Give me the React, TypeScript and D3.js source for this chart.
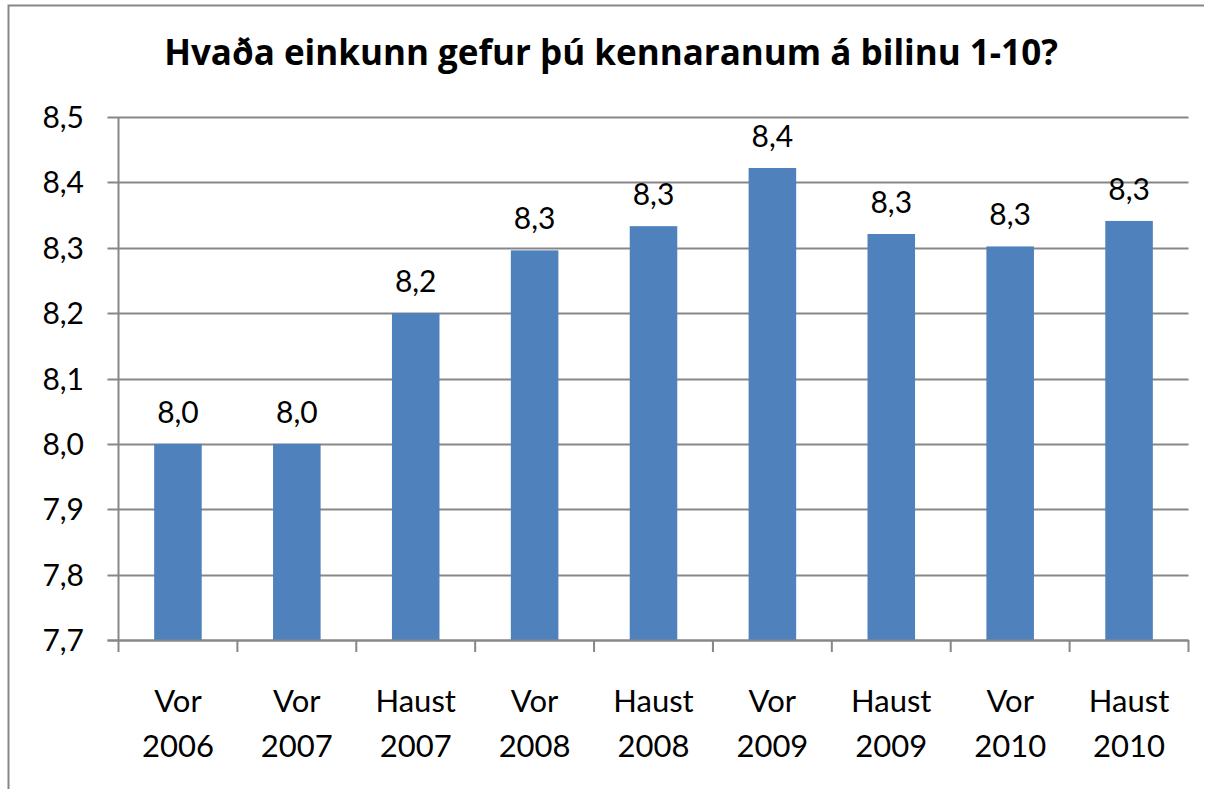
import React, { useEffect, useRef } from 'react';
import * as d3 from 'd3';

// Survey periods (two-line labels)
const periods = ['Vor 2006', 'Vor 2007', 'Haust 2007', 'Vor 2008', 'Haust 2008', 'Vor 2009', 'Haust 2009', 'Vor 2010', 'Haust 2010'];
// Average grade
const grades = [8.0, 8.0, 8.2, 8.296, 8.333, 8.422, 8.321, 8.302, 8.341];
// Labels printed above each bar
const gradeLabels = ['8,0', '8,0', '8,2', '8,3', '8,3', '8,4', '8,3', '8,3', '8,3'];
const yTicks = [7.7, 7.8, 7.9, 8.0, 8.1, 8.2, 8.3, 8.4, 8.5];

const chartTitle = 'Hvaða einkunn gefur þú kennaranum á bilinu 1-10?';

const App = () => {
  const ref = useRef<SVGSVGElement>(null);

  useEffect(() => {
    const svg = d3.select(ref.current);
    svg.selectAll('*').remove();

    const height = 789;
    const left = 118.5;
    const right = 1188.5;
    const top = 117;
    const bottom = 640;
    const font = 'Lato, "Open Sans", sans-serif';
    const gray = '#878787';

    // outer chart border (cropped on right/bottom)
    svg.append('path')
      .attr('d', `M8.5,${height} V5.5 H1204`)
      .attr('fill', 'none')
      .attr('stroke', gray)
      .attr('stroke-width', 2);

    const x = d3.scaleBand().domain(periods).range([left, right]).padding(0);
    const y = d3.scaleLinear().domain([7.7, 8.5]).range([bottom, top]);

    // gridlines + left ticks
    svg.append('g')
      .selectAll('line')
      .data(yTicks)
      .enter()
      .append('line')
      .attr('x1', left - 11)
      .attr('x2', right)
      .attr('y1', (d) => Math.round(y(d)) + 0.5)
      .attr('y2', (d) => Math.round(y(d)) + 0.5)
      .attr('stroke', gray)
      .attr('stroke-width', 2);

    // y tick labels
    svg.append('g')
      .selectAll('text')
      .data(yTicks)
      .enter()
      .append('text')
      .attr('x', 84)
      .attr('y', (d) => y(d) + 11)
      .attr('text-anchor', 'end')
      .style('font-family', font)
      .style('font-size', '30px')
      .text((d) => d3.format('.1f')(d).replace('.', ','));

    // bars
    const barW = x.bandwidth() * 0.4;
    svg.append('g')
      .selectAll('rect')
      .data(grades)
      .enter()
      .append('rect')
      .attr('x', (d, i) => x(periods[i])! + (x.bandwidth() - barW) / 2)
      .attr('y', (d) => y(d))
      .attr('width', barW)
      .attr('height', (d) => bottom - y(d))
      .attr('fill', '#4F81BD');

    // value labels
    svg.append('g')
      .selectAll('text')
      .data(grades)
      .enter()
      .append('text')
      .attr('x', (d, i) => x(periods[i])! + x.bandwidth() / 2)
      .attr('y', (d) => y(d) - 21)
      .attr('text-anchor', 'middle')
      .style('font-family', font)
      .style('font-size', '30px')
      .text((d, i) => gradeLabels[i]);

    // y axis line
    svg.append('line')
      .attr('x1', left).attr('x2', left)
      .attr('y1', top).attr('y2', bottom)
      .attr('stroke', gray).attr('stroke-width', 2);

    // x axis line and ticks
    svg.append('line')
      .attr('x1', left - 11).attr('x2', right)
      .attr('y1', bottom + 0.5).attr('y2', bottom + 0.5)
      .attr('stroke', gray).attr('stroke-width', 2);
    const xTicks = periods.map((p) => x(p)!).concat([right]);
    svg.append('g')
      .selectAll('line')
      .data(xTicks)
      .enter()
      .append('line')
      .attr('x1', (d) => d).attr('x2', (d) => d)
      .attr('y1', bottom).attr('y2', bottom + 12)
      .attr('stroke', gray).attr('stroke-width', 2);

    // category labels, two lines
    const cat = svg.append('g')
      .selectAll('text')
      .data(periods)
      .enter()
      .append('text')
      .attr('text-anchor', 'middle')
      .style('font-family', font)
      .style('font-size', '31px');
    cat.append('tspan')
      .attr('x', (d) => x(d)! + x.bandwidth() / 2)
      .attr('y', 711.5)
      .text((d) => d.split(' ')[0]);
    cat.append('tspan')
      .attr('x', (d) => x(d)! + x.bandwidth() / 2)
      .attr('y', 756.5)
      .text((d) => d.split(' ')[1]);

    // title
    svg.append('text')
      .attr('x', 611)
      .attr('y', 65)
      .attr('text-anchor', 'middle')
      .style('font-family', '"Open Sans", Lato, sans-serif')
      .style('font-weight', 'bold')
      .style('font-size', '35px')
      .text(chartTitle);
  }, []);

  return (
    <div style={{ position: 'absolute', left: 0, top: 0 }}>
      <svg ref={ref} width="1214" height="789" style={{ display: 'block', background: '#fff' }}></svg>
    </div>
  );
};

export default App;
